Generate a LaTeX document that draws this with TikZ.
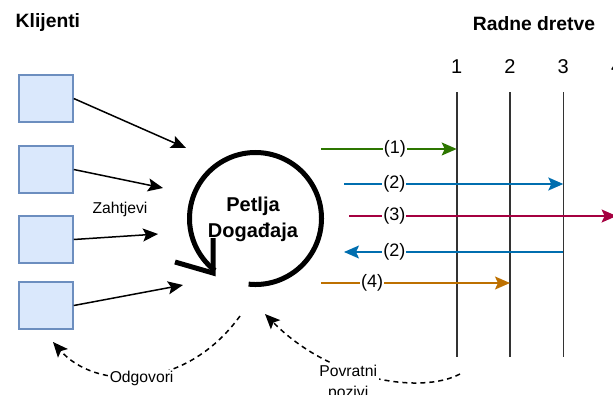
\documentclass[tikz,border=0pt]{standalone}
\usepackage{fontspec}
\setmainfont{Liberation Sans}
\usetikzlibrary{arrows.meta}
\definecolor{klijentfill}{RGB}{218, 232, 252}
\definecolor{klijentrub}{RGB}{108, 142, 191}
\definecolor{zelena}{RGB}{45, 118, 0}
\definecolor{plava}{RGB}{0, 110, 175}
\definecolor{ruzicasta}{RGB}{165, 0, 64}
\definecolor{narancasta}{RGB}{189, 112, 0}
\definecolor{dretva}{RGB}{51, 51, 51}

\begin{document}
\begin{tikzpicture}[x=1pt, y=-1pt, line width=1.5pt,
  klijent/.style={draw=klijentrub, fill=klijentfill, minimum width=54pt, minimum height=47pt, inner sep=0pt},
  strelica/.style={-{Stealth[length=15pt, width=13pt, inset=3pt]}},
  naslov/.style={inner sep=0pt, font=\fontsize{19.3}{23}\selectfont\bfseries},
  oznaka/.style={fill=white, inner sep=1pt, font=\fontsize{18}{20}\selectfont},
  tekst/.style={fill=white, inner sep=1.5pt, align=center, font=\fontsize{15.7}{21}\selectfont},
  povrat/.style={dashed, dash pattern=on 5pt off 4pt, strelica}]
  \useasboundingbox (0, 0) rectangle (613, 394);
  \clip (0, 0) rectangle (613, 394);

  \node[naslov, anchor=west] (klijenti) at (15, 23) {Klijenti};
  \node[naslov] (dretve) at (534, 24) {Radne dretve};

  % klijenti i zahtjevi
  \node[klijent] (k1) at (46, 98.5) {};
  \node[klijent] (k2) at (46, 169.5) {};
  \node[klijent] (k3) at (46, 239.5) {};
  \node[klijent] (k4) at (46, 305.5) {};
  \coordinate (z1) at (186, 148);
  \coordinate (z2) at (163, 188);
  \coordinate (z3) at (158, 234);
  \coordinate (z4) at (183, 285);
  \foreach \i in {1,...,4}
    \draw[strelica] (k\i.east) -- (z\i);
  \node[tekst, fill=none] (zahtjevi) at (120, 209) {Zahtjevi};

  % petlja
  \coordinate (sredina) at (255.5, 218.5);
  \draw[line width=5pt] (sredina) ++(96:66) arc[start angle=96, end angle=-232, radius=66];
  \draw[line width=5pt, line join=miter] (213, 238) -- (213, 273) -- (175, 262);
  \node[font=\fontsize{20}{26}\selectfont\bfseries, align=center] (petlja) at (253, 219) {Petlja\\Događaja};

  % radne dretve
  \foreach \i in {1,...,4} {
    \node[font=\fontsize{20}{24}\selectfont] (t\i) at ({403.4+53.3*\i}, 67) {\i};
    \coordinate (g\i) at ({403.4+53.3*\i}, 92);
    \coordinate (d\i) at ({403.4+53.3*\i}, 357);
    \draw[dretva, line width=1.6pt] (g\i) -- (d\i);
  }

  \coordinate (p1) at (321, 149);
  \coordinate (p2) at (344, 184);
  \coordinate (p3) at (349, 216);
  \coordinate (p4) at (344, 252);
  \coordinate (p5) at (321, 283);
  \draw[zelena, strelica] (p1) -- (p1 -| g1) node[oznaka, text=black, pos=0.545] {(1)};
  \draw[plava, strelica] (p2) -- (p2 -| g3) node[oznaka, text=black, pos=0.23] {(2)};
  \draw[ruzicasta, strelica] (p3) -- (p3 -| g4) node[oznaka, text=black, pos=0.17] {(3)};
  \draw[plava, strelica] (p4 -| g3) -- (p4) node[oznaka, text=black, pos=0.77] {(2)};
  \draw[narancasta, strelica] (p5) -- (p5 -| g2) node[oznaka, text=black, pos=0.27] {(4)};

  % odgovori i povratni pozivi
  \coordinate (o1) at (240, 316);
  \coordinate (o2) at (53, 342);
  \draw[povrat] (o1) .. controls (185, 392) and (95, 390) .. (o2)
    node[tekst, pos=0.5, yshift=-3pt] (odgovori) {Odgovori};
  \coordinate (v1) at (460, 374);
  \coordinate (v2) at (265, 314);
  \draw[povrat] (v1) .. controls (420, 395) and (330, 380) .. (v2)
    node[tekst, pos=0.6, xshift=-2pt, yshift=-13pt] (pozivi) {Povratni\\pozivi};
\end{tikzpicture}
\end{document}
